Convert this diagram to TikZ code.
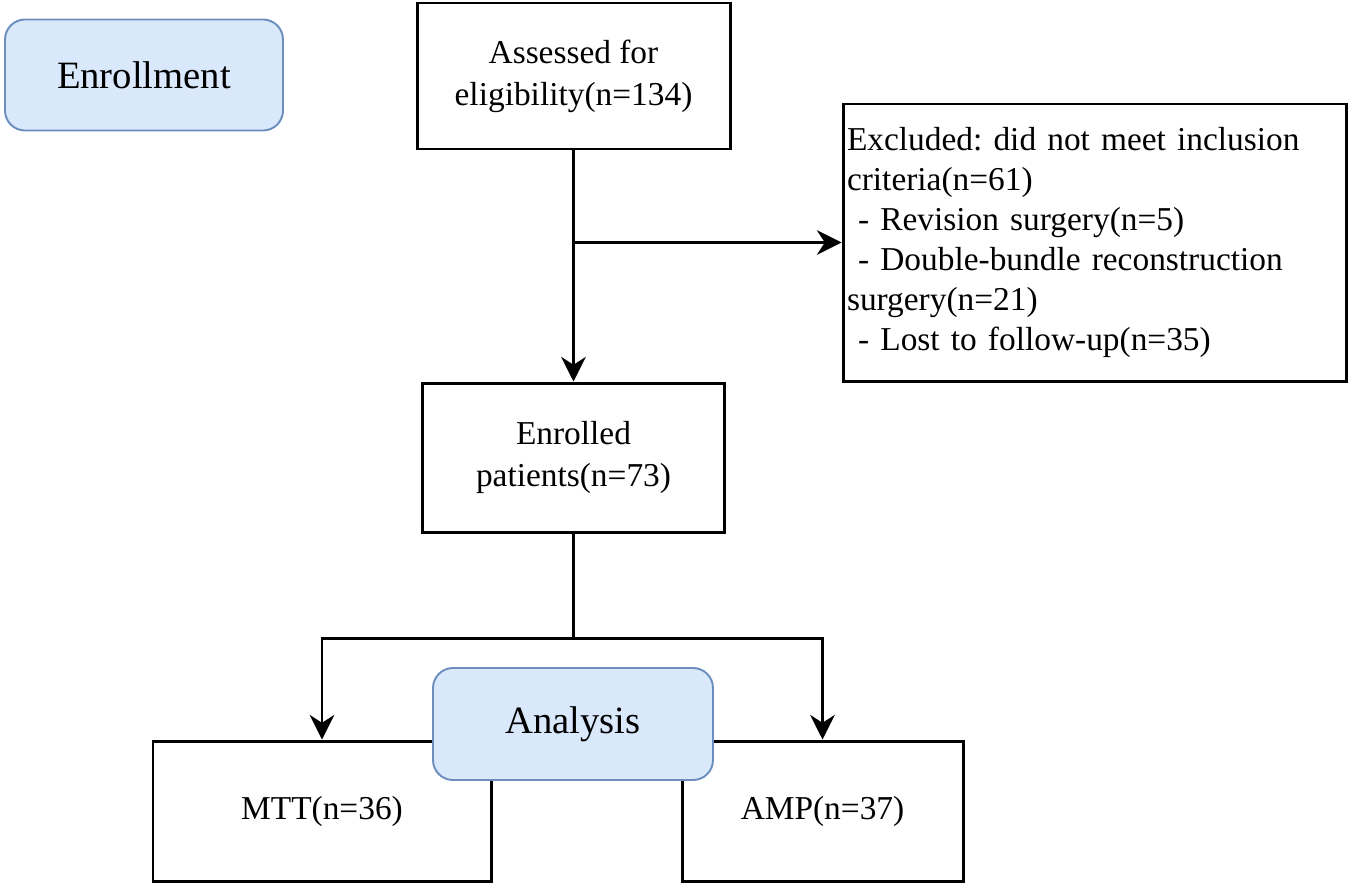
\documentclass[tikz,border=0pt]{standalone}
\usepackage{fontspec}
\setmainfont{Liberation Serif}
\usetikzlibrary{arrows.meta, positioning, calc}
\usepackage{xcolor}
\definecolor{pblue}{HTML}{DAE8FC}
\definecolor{pedge}{HTML}{6C8EBF}
\frenchspacing

\begin{document}
\begin{tikzpicture}[
                    box/.style={draw,line width=1.7pt,align=center,
                    font=\fontsize{19}{24}\selectfont,inner sep=0pt},
                    phase/.style={draw=pedge,line width=1.1pt,rounded corners=0.4cm,fill=pblue,
                    align=center,font=\fontsize{22}{26}\selectfont,inner sep=0pt},
                    arr/.style={-{Stealth[length=14pt,width=14pt,inset=4.5pt]},line width=1.7pt},
                    conn/.style={line width=1.7pt}
]
\useasboundingbox (0,0) rectangle (27,-17.72);
\node[phase,minimum width=5.56cm,minimum height=2.22cm] (enroll) at (2.88,-1.5) {Enrollment};
\node[box,minimum width=6.26cm,minimum height=2.92cm] (assess) at (11.47,-1.52) {Assessed for\\eligibility(n=134)};
\node[box,minimum width=10.06cm,minimum height=5.54cm,text width=9.9cm,align=left,
      font=\fontsize{19}{22.8}\selectfont] (excl) at (21.89,-4.85)
      {Excluded: did not meet inclusion\\criteria(n=61)\\
       \ - Revision surgery(n=5)\\
       \ - Double-bundle reconstruction\\surgery(n=21)\\
       \ - Lost to follow-up(n=35)};
\node[box,minimum width=6.04cm,minimum height=2.98cm] (enrolled) at (11.47,-9.15) {Enrolled\\patients(n=73)};
\node[box,minimum width=6.76cm,minimum height=2.8cm] (mtt) at (6.44,-16.22) {MTT(n=36)};
\node[box,minimum width=5.62cm,minimum height=2.8cm] (amp) at (16.45,-16.22) {AMP(n=37)};
\coordinate (brk) at (assess.south |- excl.west);
\coordinate (split) at ($(enrolled.south)+(0,-2.1)$);
\draw[arr] (assess) -- (enrolled); \draw[arr] (brk) -- (excl);
\draw[conn] (enrolled) -- (split);
\draw[arr] (split) -| (mtt); \draw[arr] (split) -| (amp);
\node[phase,minimum width=5.6cm,minimum height=2.24cm] (analysis) at (11.46,-14.48) {Analysis};
\end{tikzpicture}
\end{document}
